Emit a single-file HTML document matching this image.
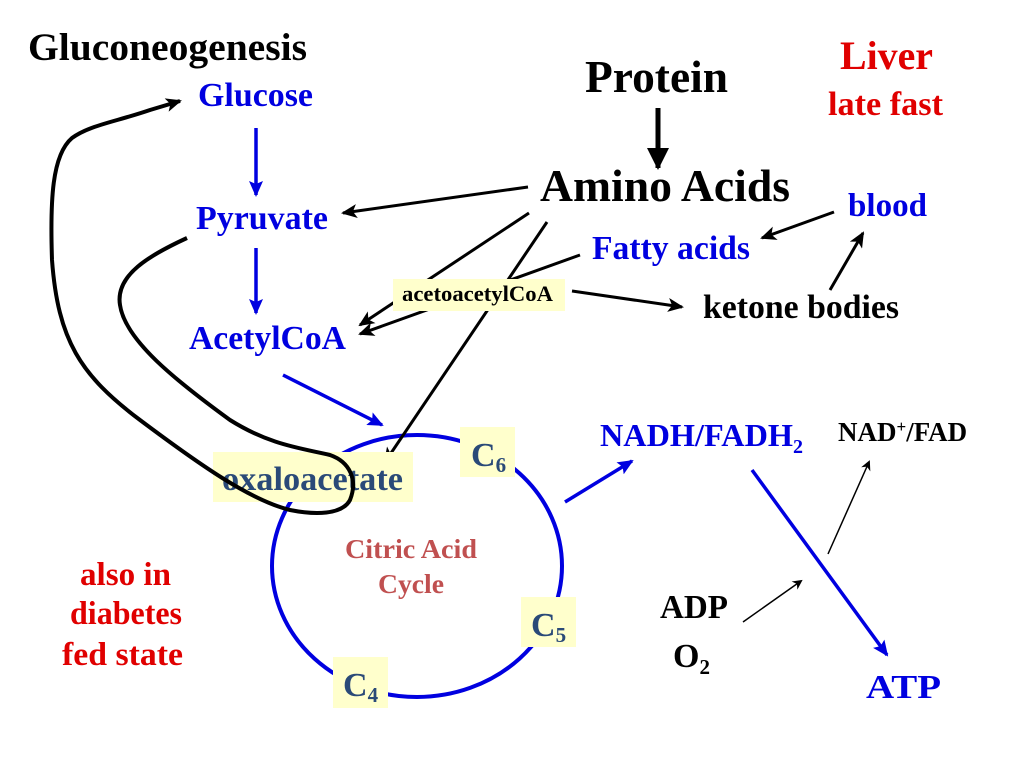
<!DOCTYPE html>
<html><head><meta charset="utf-8"><style>
html,body{margin:0;padding:0;background:#fff}
svg{display:block}
text{font-family:"Liberation Serif",serif;font-weight:bold}
</style></head><body>
<svg width="1024" height="768" viewBox="0 0 1024 768" xmlns="http://www.w3.org/2000/svg">
<defs>
<marker id="bk" markerWidth="10" markerHeight="10" refX="8" refY="5" orient="auto" markerUnits="userSpaceOnUse"><path d="M0,0 L10,5 L0,10 L3,5 z" fill="#000"/></marker>
<marker id="bkL" markerWidth="16" markerHeight="14" refX="14" refY="7" orient="auto" markerUnits="userSpaceOnUse"><path d="M0,0 L16,7 L0,14 L4,7 z" fill="#000"/></marker>
<marker id="bl" markerWidth="16" markerHeight="14" refX="14" refY="7" orient="auto" markerUnits="userSpaceOnUse"><path d="M0,0 L16,7 L0,14 L3,7 z" fill="#0000e0"/></marker>
<marker id="pr" markerWidth="22" markerHeight="22" refX="20" refY="11" orient="auto" markerUnits="userSpaceOnUse"><path d="M0,0 L22,11 L0,22 z" fill="#000"/></marker>
</defs>

<ellipse cx="417" cy="566" rx="145" ry="131" fill="none" stroke="#0000e0" stroke-width="4"/>

<g stroke="#0000e0" stroke-width="3.5" fill="none">
<line x1="256" y1="128" x2="256" y2="195" marker-end="url(#bl)"/>
<line x1="256" y1="248" x2="256" y2="313" marker-end="url(#bl)"/>
<line x1="283" y1="375" x2="382" y2="425" marker-end="url(#bl)"/>
<line x1="565" y1="502" x2="632" y2="461" marker-end="url(#bl)"/>
<line x1="752" y1="470" x2="887" y2="655" marker-end="url(#bl)"/>
</g>

<g stroke="#000" stroke-width="3" fill="none">
<line x1="658" y1="108" x2="658" y2="168" stroke-width="5" marker-end="url(#pr)"/>
<line x1="528" y1="187" x2="343" y2="213" marker-end="url(#bkL)"/>
<line x1="529" y1="213" x2="360" y2="325" marker-end="url(#bkL)"/>
<line x1="547" y1="222" x2="385" y2="462" marker-end="url(#bkL)"/>
<line x1="580" y1="255" x2="360" y2="334" marker-end="url(#bkL)"/>
<line x1="572" y1="291" x2="682" y2="307" marker-end="url(#bkL)"/>
<line x1="834" y1="212" x2="762" y2="238" marker-end="url(#bkL)"/>
<line x1="830" y1="290" x2="863" y2="233" marker-end="url(#bkL)"/>
</g>
<g stroke="#000" stroke-width="1.5" fill="none">
<line x1="743" y1="622" x2="801" y2="581" marker-end="url(#bk)"/>
<line x1="828" y1="554" x2="869" y2="462" marker-end="url(#bk)"/>
</g>

<rect x="213" y="452" width="200" height="50" fill="#ffffcc"/>
<rect x="460" y="427" width="55" height="50" fill="#ffffcc"/>
<rect x="521" y="597" width="55" height="50" fill="#ffffcc"/>
<rect x="333" y="657" width="55" height="51" fill="#ffffcc"/>
<rect x="393" y="279" width="172" height="32" fill="#ffffcc"/>

<text x="28" y="60" font-size="39" fill="#000" textLength="279" lengthAdjust="spacingAndGlyphs">Gluconeogenesis</text>
<text x="198" y="106" font-size="34" fill="#0000e0" textLength="115" lengthAdjust="spacingAndGlyphs">Glucose</text>
<text x="196" y="229" font-size="34" fill="#0000e0" textLength="132" lengthAdjust="spacingAndGlyphs">Pyruvate</text>
<text x="189" y="349" font-size="34" fill="#0000e0" textLength="157" lengthAdjust="spacingAndGlyphs">AcetylCoA</text>
<text x="585" y="92" font-size="45" fill="#000" textLength="143" lengthAdjust="spacingAndGlyphs">Protein</text>
<text x="540" y="201" font-size="46" fill="#000" textLength="250" lengthAdjust="spacingAndGlyphs">Amino Acids</text>
<text x="840" y="69" font-size="40" fill="#e00000" textLength="93" lengthAdjust="spacingAndGlyphs">Liver</text>
<text x="828" y="115" font-size="34" fill="#e00000" textLength="115" lengthAdjust="spacingAndGlyphs">late fast</text>
<text x="848" y="216" font-size="33" fill="#0000e0" textLength="79" lengthAdjust="spacingAndGlyphs">blood</text>
<text x="592" y="259" font-size="34" fill="#0000e0" textLength="158" lengthAdjust="spacingAndGlyphs">Fatty acids</text>
<text x="402" y="301" font-size="22" fill="#000" textLength="151" lengthAdjust="spacingAndGlyphs">acetoacetylCoA</text>
<text x="703" y="318" font-size="34" fill="#000" textLength="196" lengthAdjust="spacingAndGlyphs">ketone bodies</text>
<text x="600" y="446" font-size="32" fill="#0000e0"><tspan textLength="193" lengthAdjust="spacingAndGlyphs">NADH/FADH</tspan><tspan font-size="20" dy="7">2</tspan></text>
<text x="838" y="441" font-size="27" fill="#000">NAD<tspan font-size="17" dy="-9">+</tspan><tspan dy="9">/FAD</tspan></text>
<text x="222" y="490" font-size="34" fill="#2a4a78" textLength="181" lengthAdjust="spacingAndGlyphs">oxaloacetate</text>
<text x="471" y="466" font-size="34" fill="#2a4a78">C<tspan font-size="21" dy="6">6</tspan></text>
<text x="531" y="636" font-size="34" fill="#2a4a78">C<tspan font-size="21" dy="6">5</tspan></text>
<text x="343" y="696" font-size="34" fill="#2a4a78">C<tspan font-size="21" dy="6">4</tspan></text>
<text x="345" y="558" font-size="27" fill="#c05050" textLength="132" lengthAdjust="spacingAndGlyphs">Citric Acid</text>
<text x="378" y="593" font-size="27" fill="#c05050" textLength="66" lengthAdjust="spacingAndGlyphs">Cycle</text>
<text x="80" y="585" font-size="33" fill="#e00000" textLength="91" lengthAdjust="spacingAndGlyphs">also in</text>
<text x="70" y="624" font-size="33" fill="#e00000" textLength="112" lengthAdjust="spacingAndGlyphs">diabetes</text>
<text x="62" y="665" font-size="33" fill="#e00000" textLength="121" lengthAdjust="spacingAndGlyphs">fed state</text>
<text x="660" y="618" font-size="34" fill="#000" textLength="68" lengthAdjust="spacingAndGlyphs">ADP</text>
<text x="673" y="667" font-size="34" fill="#000">O<tspan font-size="21" dy="7">2</tspan></text>
<text x="866" y="698" font-size="34" fill="#0000e0" textLength="75" lengthAdjust="spacingAndGlyphs">ATP</text>

<path d="M187,238 C150,255 115,275 120,305 C125,340 175,380 230,420 C270,445 300,448 330,455 C350,462 358,480 350,500 C342,515 315,515 290,510 C250,500 200,465 140,420 C80,375 58,340 52,260 C50,200 52,155 72,138 C90,125 115,122 150,110 L180,101" fill="none" stroke="#000" stroke-width="4" marker-end="url(#bkL)"/>
</svg>
</body></html>
